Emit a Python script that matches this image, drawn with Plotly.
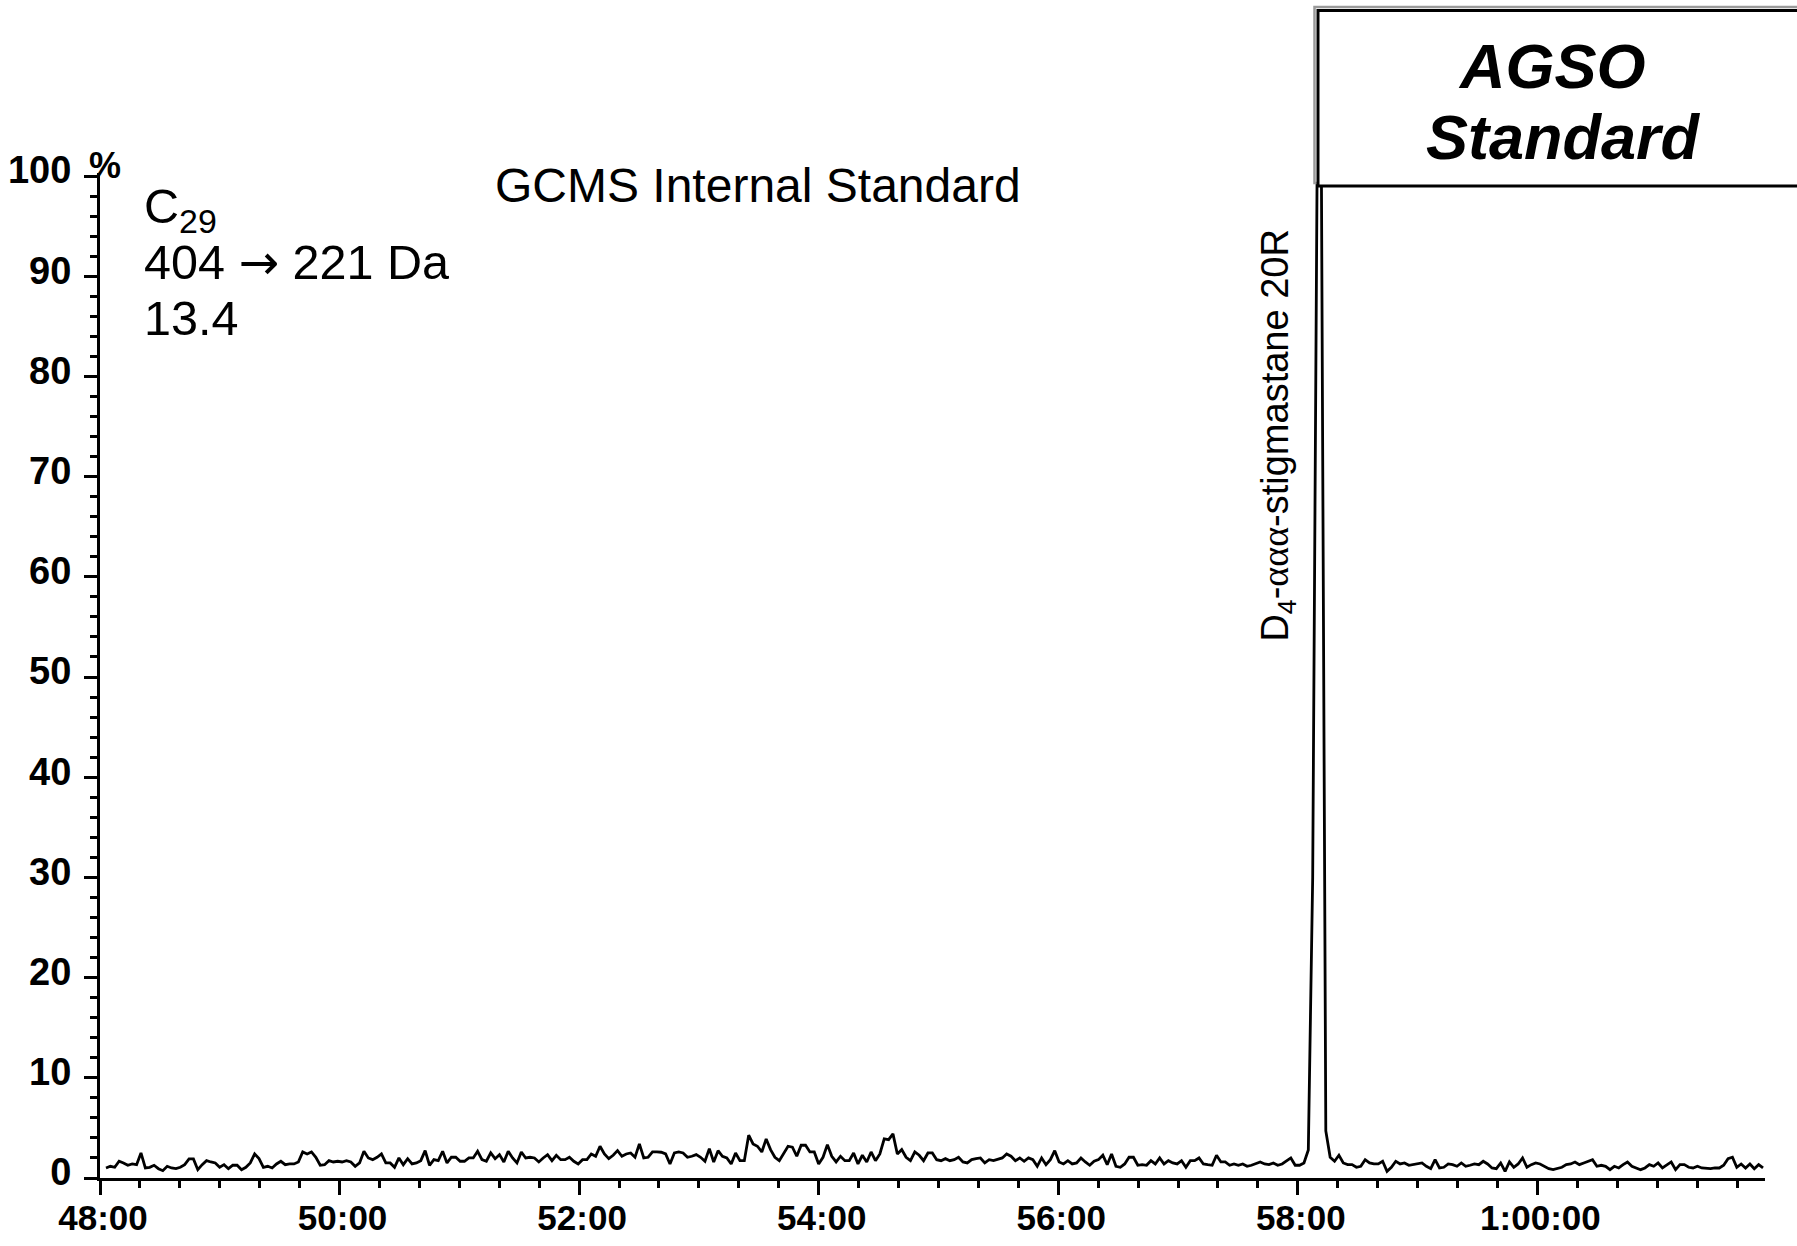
import numpy as np
import plotly.graph_objects as go

# ---- acquisition: first scan time and scan interval (minutes) ----
scan_start_min = 48.05
scan_interval_min = 0.0365

# ---- relative abundance (%), MRM 404 -> 221 Da, in scan order ----
abundance_48_to_53 = [
    1.00, 1.17, 1.07, 1.67, 1.50, 1.27, 1.40, 1.33, 2.50, 1.00,
    1.07, 1.27, 0.93, 0.73, 1.17, 1.00, 0.93, 1.07, 1.33, 1.90,
    1.90, 0.83, 1.33, 1.73, 1.60, 1.50, 1.07, 1.33, 0.93, 1.27,
    1.27, 0.83, 1.07, 1.50, 2.40, 1.93, 1.07, 1.17, 1.00, 1.40,
    1.67, 1.33, 1.40, 1.40, 1.60, 2.60, 2.40, 2.60, 2.07, 1.27,
    1.33, 1.73, 1.60, 1.67, 1.60, 1.73, 1.60, 1.17, 1.50, 2.67,
    2.00, 1.83, 2.07, 2.40, 1.50, 1.50, 1.07, 2.00, 1.33, 1.93,
    1.40, 1.50, 1.73, 2.73, 1.27, 1.83, 1.73, 2.67, 1.50, 2.07,
    2.07, 1.67, 1.67, 2.00, 2.00, 2.67, 1.83, 1.67, 2.50, 1.93,
    2.33, 1.60, 2.67, 2.00, 1.50, 2.60, 2.00, 2.07, 2.00, 1.60,
    2.00, 2.33, 1.73, 2.27, 1.83, 1.83, 2.07, 1.67, 1.40, 1.83,
    1.83, 2.40, 2.17, 3.17, 2.40, 1.93, 2.27, 2.73, 2.17, 2.40,
    2.50, 2.07, 3.40, 2.00, 2.07, 2.60, 2.60, 2.57, 2.40, 1.40,
    2.50, 2.60, 2.50, 2.07, 2.17, 2.33, 2.07, 1.67, 2.93, 1.60,
    2.73, 2.17, 2.00, 1.40, 2.50, 1.73, 1.73,
]
abundance_53_to_58 = [
    4.27, 3.40, 3.17, 2.60, 3.90, 2.83, 2.07, 1.73, 2.50, 3.17,
    3.07, 2.17, 3.27, 3.27, 2.60, 2.60, 1.40, 2.07, 3.33, 2.17,
    1.60, 2.17, 1.73, 1.73, 2.50, 1.40, 2.27,
    1.60, 2.60, 1.73, 2.40, 3.90, 3.83, 4.40, 2.40, 2.83,
    2.07, 1.73, 2.60, 2.27, 1.73, 2.50, 2.50, 1.83, 1.73, 1.93,
    1.73, 1.83, 2.07, 1.60, 1.50, 1.83, 1.93, 2.00, 1.50, 1.83, 1.73,
    1.83, 2.00, 2.40, 2.17, 1.73, 2.00, 1.67, 2.00, 1.83, 1.17,
    2.00, 1.33, 1.83, 2.73, 1.60, 1.40, 1.73, 1.40, 1.50, 2.00, 1.60,
    1.27, 1.67, 1.83, 2.27, 1.33, 2.40, 1.17, 1.07, 1.40, 2.07,
    2.07, 1.27, 1.33, 1.27, 1.73, 1.40, 2.00, 1.40, 1.73, 1.50, 1.40,
    1.73, 1.07, 1.73, 1.73, 2.00, 1.40, 1.33, 1.27, 2.27, 1.60,
    1.60, 1.27, 1.40, 1.27, 1.40, 1.17, 1.27, 1.40, 1.60, 1.40, 1.33,
    1.50, 1.27, 1.40, 1.73, 2.00, 1.27, 1.27,
]
# D4-aaa-stigmastane 20R internal standard
abundance_peak = [1.50, 2.80, 30.0, 100.0, 99.5, 4.70]
abundance_58_to_62 = [
    2.07, 1.67, 2.27, 1.50, 1.33, 1.33, 1.07, 1.17, 1.83, 1.50,
    1.40, 1.40, 1.67, 0.67, 1.07, 1.67, 1.40, 1.50, 1.27, 1.33,
    1.40, 1.50, 1.17, 0.93, 1.83, 1.00, 1.07, 1.40, 1.33, 1.17,
    1.50, 1.17, 1.27, 1.40, 1.33, 1.67, 1.40, 1.00, 0.93, 1.50,
    0.67, 1.60, 1.07, 1.40, 2.00, 1.07, 1.33, 1.50, 1.40, 1.17,
    0.93, 0.83, 0.93, 1.07, 1.33, 1.40, 1.60, 1.33, 1.50, 1.67,
    1.83, 1.17, 1.27, 1.17, 0.83, 1.17, 1.00, 1.33, 1.60, 1.17,
    1.00, 0.83, 1.00, 1.33, 1.17, 1.50, 1.00, 1.33, 1.60, 0.83,
    1.33, 1.33, 1.07, 1.00, 1.17, 1.00, 0.93, 0.93, 1.00, 1.00,
    1.27, 1.93, 2.07, 1.07, 1.40, 1.00, 1.40, 0.93, 1.33, 1.00,
]

# ---- axis ticks ----
x_tick_minutes = [48, 50, 52, 54, 56, 58, 60]
x_tick_labels = ["48:00", "50:00", "52:00", "54:00", "56:00", "58:00", "1:00:00"]
y_tick_values = [0, 10, 20, 30, 40, 50, 60, 70, 80, 90, 100]
y_tick_labels = ["0", "10", "20", "30", "40", "50", "60", "70", "80", "90", "100"]

abundance = np.array(abundance_48_to_53 + abundance_53_to_58
                     + abundance_peak + abundance_58_to_62)
scan_time = scan_start_min + scan_interval_min * np.arange(abundance.size)
peak_time = scan_time[int(np.argmax(abundance))]

# ---- page geometry ----
W, H = 1797, 1246
M_L, M_R, M_T, M_B = 100, 32, 173, 68
FONT = "Liberation Sans, Arial, Helvetica, sans-serif"


def paper_x(px):
    return (px - M_L) / (W - M_L - M_R)


def paper_y(py):
    return (H - M_B - py) / (H - M_T - M_B)


fig = go.Figure()
fig.add_trace(go.Scatter(
    x=scan_time, y=abundance, mode="lines",
    line=dict(color="black", width=2.8),
    hoverinfo="skip", showlegend=False,
))

fig.update_layout(
    width=W, height=H, autosize=False,
    margin=dict(l=M_L, r=M_R, t=M_T, b=M_B, pad=0, autoexpand=False),
    paper_bgcolor="white", plot_bgcolor="white",
    font=dict(family=FONT, color="black"),
    showlegend=False,
)

fig.update_xaxes(
    range=[48, 61.9], showgrid=False, zeroline=False, automargin=False,
    showline=True, linecolor="black", linewidth=3,
    tickmode="array", tickvals=x_tick_minutes, ticktext=x_tick_labels,
    ticks="outside", ticklen=14, tickwidth=3, tickcolor="black",
    tickfont=dict(family=FONT, size=35, weight="bold", color="black"),
    ticklabelshift=3, ticklabelstandoff=-7,
    minor=dict(tickmode="linear", tick0=48, dtick=1 / 3, ticks="outside",
               ticklen=7, tickwidth=2.5, tickcolor="black", showgrid=False),
)
fig.update_yaxes(
    range=[0, 100.3], showgrid=False, zeroline=False, automargin=False,
    showline=True, linecolor="black", linewidth=3,
    tickmode="array", tickvals=y_tick_values, ticktext=y_tick_labels,
    ticks="outside", ticklen=13, tickwidth=3, tickcolor="black",
    tickfont=dict(family=FONT, size=38, weight="bold", color="black"),
    ticklabelshift=-6, ticklabelstandoff=5,
    minor=dict(tickmode="linear", tick0=0, dtick=2, ticks="outside",
               ticklen=7, tickwidth=2.5, tickcolor="black", showgrid=False),
)

# ---- "AGSO Standard" box (grey offset edge, then white box on top) ----
fig.add_shape(type="rect", xref="paper", yref="paper",
              x0=paper_x(1314.5), x1=paper_x(1812), y0=paper_y(183), y1=paper_y(7),
              line=dict(color="#9a9a9a", width=2.5), fillcolor="white", layer="above")
fig.add_shape(type="rect", xref="paper", yref="paper",
              x0=paper_x(1318), x1=paper_x(1812), y0=paper_y(186), y1=paper_y(10.5),
              line=dict(color="black", width=3), fillcolor="white", layer="above")


def note(text, px, py, size, xanchor="center", **kw):
    fig.add_annotation(text=text, xref="paper", yref="paper",
                       x=paper_x(px), y=paper_y(py), xanchor=xanchor, yanchor="middle",
                       showarrow=False, font=dict(family=FONT, size=size, color="black"),
                       **kw)


note("<b><i>AGSO</i></b>", 1552, 66, 63)
note("<b><i>Standard</i></b>", 1563, 137.5, 63)
note("GCMS Internal Standard", 758, 185.5, 48)
note("C<sub>29</sub>", 142, 209, 48.5, xanchor="left")
note("404 <span style=\"font-family:DejaVu Sans\">\u2192</span> 221 Da",
     142, 261.5, 48.5, xanchor="left")
note("13.4", 142, 317.5, 48.5, xanchor="left")
note("<b>%</b>", 105, 165, 36)

# compound label beside the internal-standard peak
fig.add_annotation(
    text="D<sub>4</sub>-<span style=\"font-family:Liberation Serif\">"
         "\u03b1\u03b1\u03b1</span>-stigmastane 20R",
    x=peak_time, y=74.1, xref="x", yref="y", xshift=-40,
    textangle=-90, showarrow=False, xanchor="center", yanchor="middle",
    font=dict(family=FONT, size=38, color="black"),
)

fig.write_html("out.html")
